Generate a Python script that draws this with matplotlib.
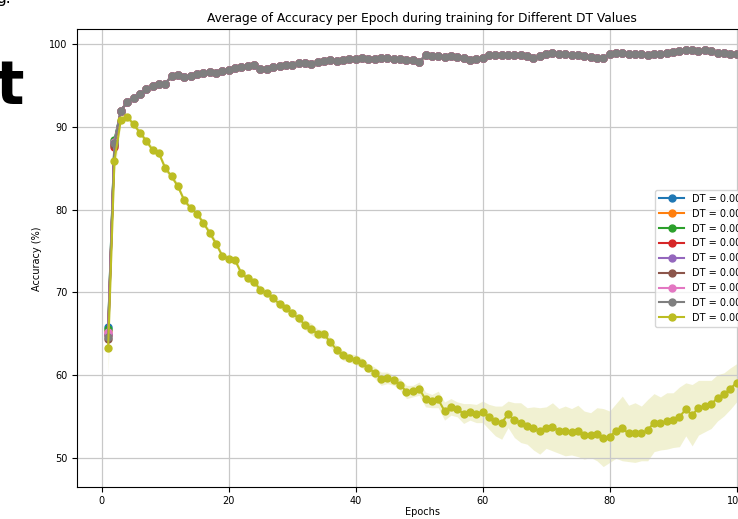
import matplotlib
matplotlib.use('Agg')
import matplotlib.pyplot as plt
import numpy as np

epochs = list(range(1, 101))
dt_labels = ['DT = 0.001', 'DT = 0.002', 'DT = 0.003', 'DT = 0.004', 'DT = 0.005',
             'DT = 0.006', 'DT = 0.007', 'DT = 0.008', 'DT = 0.009']
colors = ['tab:blue', 'tab:orange', 'tab:green', 'tab:red', 'tab:purple',
          'tab:brown', 'tab:pink', 'tab:gray', 'tab:olive']

# first two epochs of the eight converging runs (they overlap afterwards)
start_e1 = [65.8, 65.3, 65.6, 64.9, 65.0, 64.4, 65.2, 64.6]
start_e2 = [88.2, 87.9, 88.4, 87.6, 88.0, 87.8, 88.1, 88.0]
# shared curve, epochs 3..100
acc_common = [91.9, 93.0, 93.5, 94.0, 94.5, 94.9, 95.2, 95.2, 96.1, 96.2,
              96.0, 96.1, 96.3, 96.5, 96.6, 96.5, 96.7, 96.9, 97.1, 97.2,
              97.3, 97.4, 97.0, 97.0, 97.2, 97.3, 97.4, 97.5, 97.7, 97.7,
              97.6, 97.8, 97.9, 98.0, 97.9, 98.1, 98.2, 98.2, 98.3, 98.2,
              98.2, 98.3, 98.3, 98.2, 98.2, 98.1, 98.0, 97.8, 98.6, 98.5,
              98.5, 98.4, 98.5, 98.4, 98.3, 98.1, 98.2, 98.3, 98.7, 98.6,
              98.6, 98.7, 98.6, 98.6, 98.5, 98.3, 98.5, 98.8, 98.9, 98.8,
              98.8, 98.7, 98.7, 98.5, 98.4, 98.3, 98.3, 98.8, 98.9, 98.9,
              98.8, 98.8, 98.8, 98.7, 98.8, 98.8, 98.9, 99.0, 99.1, 99.2,
              99.2, 99.1, 99.2, 99.1, 98.9, 98.9, 98.8, 98.8]

# diverging run (last DT)
acc_last = [63.3, 85.9, 90.8, 91.2, 90.3, 89.3, 88.3, 87.2, 86.8, 85.0,
            84.0, 82.8, 81.1, 80.2, 79.5, 78.4, 77.2, 75.9, 74.4, 74.1,
            73.9, 72.3, 71.7, 71.3, 70.3, 69.9, 69.3, 68.6, 68.1, 67.5,
            66.9, 66.1, 65.6, 65.0, 65.0, 64.0, 63.1, 62.4, 62.1, 61.9,
            61.5, 60.9, 60.3, 59.6, 59.7, 59.4, 58.9, 58.0, 58.1, 58.4,
            57.1, 56.9, 57.1, 55.7, 56.2, 55.9, 55.4, 55.6, 55.4, 55.6,
            55.0, 54.5, 54.3, 55.3, 54.6, 54.3, 53.9, 53.6, 53.3, 53.7,
            53.8, 53.3, 53.3, 53.2, 53.3, 52.8, 52.8, 52.9, 52.5, 52.6,
            53.3, 53.6, 53.0, 53.1, 53.0, 53.4, 54.3, 54.2, 54.5, 54.6,
            55.0, 55.9, 55.2, 56.1, 56.3, 56.5, 57.3, 57.7, 58.4, 59.1]
std_last = [3.2, 1.5, 0.4, 0.4, 0.3, 0.4, 0.3, 0.4, 0.3, 0.4,
            0.3, 0.4, 0.3, 0.4, 0.4, 0.3, 0.4, 0.4, 0.3, 0.4,
            0.4, 0.3, 0.4, 0.4, 0.5, 0.4, 0.4, 0.5, 0.4, 0.5,
            0.5, 0.6, 0.7, 0.6, 0.5, 0.6, 0.5, 0.6, 0.5, 0.6,
            0.6, 0.5, 0.7, 0.8, 0.7, 0.6, 0.7, 0.8, 0.7, 0.8,
            0.9, 0.8, 1.0, 1.1, 1.0, 0.9, 1.2, 1.0, 1.1, 1.3,
            1.5, 1.8, 2.0, 1.6, 2.1, 2.4, 2.2, 2.6, 2.8, 2.5,
            2.9, 2.7, 3.0, 2.8, 3.1, 2.9, 2.7, 3.2, 3.5, 3.1,
            3.3, 3.9, 3.4, 3.6, 3.3, 3.7, 3.5, 3.2, 3.4, 3.3,
            3.6, 3.2, 3.7, 3.3, 3.1, 2.9, 2.8, 2.6, 2.5, 2.3]

fig = plt.figure(figsize=(7.38, 5.19), dpi=100)
ax = fig.add_axes([76.7/738, 1-487.3/519, (768-76.7)/738, (487.3-29.3)/519])

for i in range(8):
    y = [start_e1[i], start_e2[i]] + acc_common
    ax.plot(epochs, y, marker='o', ms=5, lw=1.5, color=colors[i], label=dt_labels[i])
y = np.array(acc_last); s = np.array(std_last)
ax.plot(epochs, y, marker='o', ms=5, lw=1.5, color=colors[8], label=dt_labels[8])
ax.fill_between(epochs, y-s, y+s, color=colors[8], alpha=0.2, lw=0)

ax.set_xlim(-3.95, 104.95)
ax.set_ylim(46.5, 101.75)
ax.set_xticks([0, 20, 40, 60, 80, 100])
ax.set_yticks([50, 60, 70, 80, 90, 100])
ax.tick_params(labelsize=7, pad=3)
ax.grid(True, color='#c8c8c8', lw=0.9)
ax.set_title('Average of Accuracy per Epoch during training for Different DT Values', fontsize=8.8, pad=5)
ax.set_xlabel('Epochs', fontsize=7, labelpad=0.5)
ax.set_ylabel('Accuracy (%)', fontsize=7, labelpad=5)
ax.legend(loc='center left', bbox_to_anchor=(0.8365, 0.5), borderaxespad=0,
          fontsize=7, handlelength=2.6)

# surrounding document text visible in the screenshot
fig.text(-0.006, 1-104/519, 't', fontsize=43, fontweight='bold', va='baseline')
fig.text(-0.005, 1-3/519, 'g.', fontsize=11, va='baseline')

fig.savefig('out.png', dpi=100)
